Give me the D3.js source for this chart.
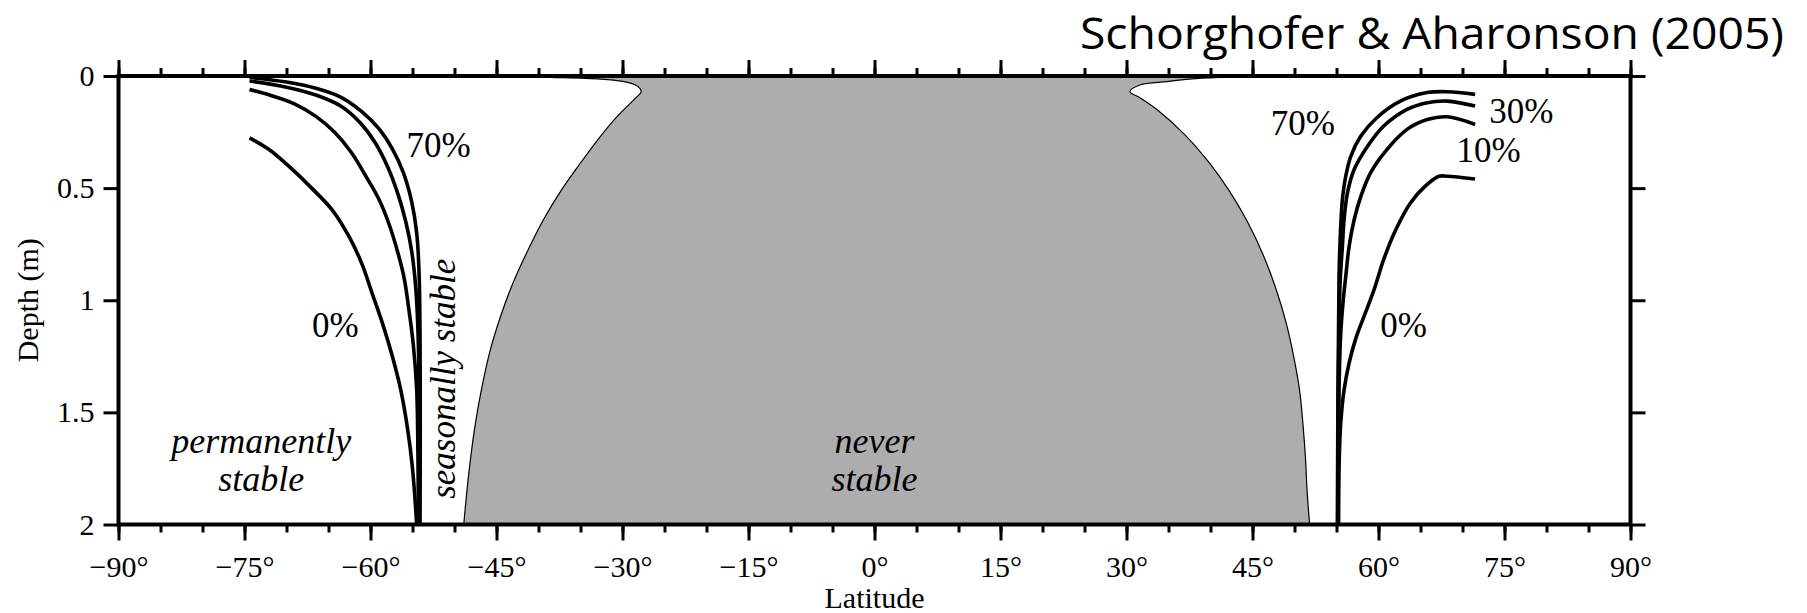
<!DOCTYPE html>
<html><head><meta charset="utf-8">
<script src="https://cdn.jsdelivr.net/npm/d3@7"></script>
<style>body{margin:0;background:#fff}svg{display:block}</style>
</head><body><svg id="c" width="1807" height="613"></svg>
<script>
// ---- tick values / labels ----
const latMajorTicks = [-90,-75,-60,-45,-30,-15,0,15,30,45,60,75,90];
const latMajorLabels = ["\u221290\u00b0","\u221275\u00b0","\u221260\u00b0","\u221245\u00b0","\u221230\u00b0","\u221215\u00b0","0\u00b0","15\u00b0","30\u00b0","45\u00b0","60\u00b0","75\u00b0","90\u00b0"];
const latMinorTicks = [-90,-85,-80,-75,-70,-65,-60,-55,-50,-45,-40,-35,-30,-25,-20,-15,-10,-5,0,5,10,15,20,25,30,35,40,45,50,55,60,65,70,75,80,85,90];
const depthTicks = [0,0.5,1,1.5,2];
const depthLabels = ["0","0.5","1","1.5","2"];

// ---- "never stable" region boundary (lat, depth) ----
const neverLeft = [[-45,0],[-38.6,0.006],[-32.6,0.014],[-30,0.024],[-28.6,0.038],[-27.9,0.056],[-27.8,0.072],[-28.6,0.104],[-30.6,0.179],[-32.6,0.268],[-35.0,0.388],[-37.3,0.51],[-39.4,0.64],[-41.3,0.78],[-43.0,0.92],[-44.5,1.07],[-45.8,1.23],[-46.8,1.40],[-47.6,1.57],[-48.2,1.74],[-48.6,1.88],[-48.9,2.0]];
const neverRight = [[51.8,2.0],[51.5,1.85],[51.3,1.70],[51.0,1.55],[50.6,1.40],[49.9,1.25],[49.0,1.10],[47.8,0.95],[46.3,0.80],[44.4,0.65],[42.2,0.51],[39.7,0.38],[36.9,0.26],[33.8,0.155],[31.5,0.095],[30.4,0.07],[31.6,0.04],[34.8,0.025],[37.5,0.014],[41,0.006],[46,0]];

// ---- ice-stability depth curves, southern hemisphere (lat, depth) ----
const south0 = [[-74.4,0.276],[-72.0,0.33],[-69.5,0.41],[-67.0,0.50],[-64.5,0.60],[-62.5,0.72],[-61.0,0.84],[-59.8,0.97],[-58.6,1.10],[-57.4,1.25],[-56.4,1.40],[-55.6,1.57],[-55.0,1.75],[-54.5,2.0]];
const south10 = [[-74.4,0.06],[-72.0,0.085],[-69.0,0.125],[-66.5,0.18],[-64.3,0.25],[-62.3,0.34],[-60.5,0.45],[-59.0,0.55],[-57.8,0.66],[-56.8,0.78],[-56.0,0.9],[-55.4,1.05],[-54.9,1.2],[-54.5,1.4],[-54.35,1.7],[-54.3,2.0]];
const south30 = [[-74.4,0.022],[-70.0,0.05],[-66.5,0.085],[-63.5,0.135],[-61.2,0.21],[-59.4,0.30],[-57.9,0.41],[-56.7,0.53],[-55.8,0.65],[-55.1,0.78],[-54.6,0.95],[-54.3,1.2],[-54.2,2.0]];
const south70 = [[-74.4,0.007],[-70.0,0.027],[-66.5,0.055],[-63.5,0.095],[-61.0,0.16],[-59.0,0.235],[-57.4,0.325],[-56.1,0.43],[-55.1,0.56],[-54.5,0.70],[-54.2,0.9],[-54.1,2.0]];

// ---- northern hemisphere ----
const north0 = [[71.5,0.459],[68.2,0.447],[67.2,0.447],[65.6,0.49],[63.8,0.566],[62.0,0.69],[60.6,0.82],[59.5,0.95],[58.4,1.06],[57.3,1.17],[56.5,1.28],[55.9,1.40],[55.5,1.55],[55.3,1.75],[55.25,2.0]];
const north10 = [[71.5,0.216],[68.2,0.182],[65.8,0.194],[63.4,0.238],[61.0,0.328],[59.05,0.432],[57.9,0.537],[57.1,0.641],[56.5,0.76],[56.1,0.895],[55.8,1.0],[55.5,1.15],[55.3,1.4],[55.2,2.0]];
const north30 = [[71.5,0.134],[68.2,0.112],[65.8,0.119],[63.4,0.149],[60.6,0.224],[58.7,0.313],[57.1,0.417],[56.3,0.522],[55.9,0.641],[55.7,0.76],[55.4,0.95],[55.15,2.0]];
const north70 = [[71.5,0.082],[68.2,0.07],[65.8,0.074],[62.6,0.112],[59.8,0.186],[57.9,0.268],[56.7,0.358],[56.1,0.447],[55.7,0.552],[55.5,0.671],[55.3,0.9],[55.1,2.0]];

const curves = [south0, south10, south30, south70, north0, north10, north30, north70];

// ---- annotation labels (lat, depth of baseline) ----
const pctLabels = [
  {t:"70%", lat:-51.9, d:0.36},
  {t:"0%",  lat:-64.2, d:1.165},
  {t:"70%", lat:51.0,  d:0.262},
  {t:"30%", lat:77.0,  d:0.21},
  {t:"10%", lat:73.1,  d:0.384},
  {t:"0%",  lat:63.0,  d:1.165}
];

const svg = d3.select("#c");
const x = d3.scaleLinear().domain([-90, 90]).range([118.5, 1630.5]);
const y = d3.scaleLinear().domain([0, 2]).range([76, 524.5]);
const serif = "'Liberation Serif','Times New Roman',serif";

svg.append("defs").append("clipPath").attr("id","plot")
  .append("rect").attr("x",x(-90)).attr("y",y(0)).attr("width",x(90)-x(-90)).attr("height",y(2)-y(0));

const line = d3.line().x(d=>x(d[0])).y(d=>y(d[1])).curve(d3.curveCatmullRom.alpha(0.5));

// gray region
const pL = line(neverLeft), pR = line(neverRight);
svg.append("path").attr("clip-path","url(#plot)")
  .attr("d", pL + pR.replace(/^M/, "L") + "Z")
  .attr("fill", "#adadad").attr("stroke", "#000").attr("stroke-width", 1.2);

// curves
svg.append("g").attr("clip-path","url(#plot)").selectAll("path").data(curves).join("path")
  .attr("d", line).attr("fill","none").attr("stroke","#000")
  .attr("stroke-width", 3.6).attr("stroke-linejoin","round").attr("stroke-linecap","butt");

// axes
function styleAxis(g){ g.select(".domain").remove(); g.selectAll(".tick line").attr("stroke","#000").attr("stroke-width",3); }
svg.append("g").attr("transform",`translate(0,${y(2)})`)
  .call(d3.axisBottom(x).tickValues(latMinorTicks).tickSize(8).tickFormat("")).call(styleAxis);
svg.append("g").attr("transform",`translate(0,${y(2)})`)
  .call(d3.axisBottom(x).tickValues(latMajorTicks).tickSize(16).tickPadding(15)
    .tickFormat((d,i)=>latMajorLabels[i])).call(styleAxis)
  .selectAll("text").attr("font-family",serif).attr("font-size",30).attr("fill","#000");
svg.append("g").attr("transform",`translate(0,${y(0)})`)
  .call(d3.axisTop(x).tickValues(latMinorTicks).tickSize(8).tickFormat("")).call(styleAxis);
svg.append("g").attr("transform",`translate(0,${y(0)})`)
  .call(d3.axisTop(x).tickValues(latMajorTicks).tickSize(16).tickFormat("")).call(styleAxis);
svg.append("g").attr("transform",`translate(${x(-90)},0)`)
  .call(d3.axisLeft(y).tickValues(depthTicks).tickSize(15).tickPadding(9)
    .tickFormat((d,i)=>depthLabels[i])).call(styleAxis)
  .selectAll("text").attr("font-family",serif).attr("font-size",30).attr("fill","#000");
svg.append("g").attr("transform",`translate(${x(90)},0)`)
  .call(d3.axisRight(y).tickValues(depthTicks).tickSize(15).tickFormat("")).call(styleAxis);

// frame
svg.append("rect").attr("x",x(-90)).attr("y",y(0)).attr("width",x(90)-x(-90)).attr("height",y(2)-y(0))
  .attr("fill","none").attr("stroke","#000").attr("stroke-width",4);

// axis titles
svg.append("text").attr("x", x(0)).attr("y", 608).attr("text-anchor","middle")
  .attr("font-family",serif).attr("font-size",30).text("Latitude");
svg.append("text").attr("transform",`translate(38,${(y(0)+y(2))/2}) rotate(-90)`).attr("text-anchor","middle")
  .attr("font-family",serif).attr("font-size",30).text("Depth (m)");

// percent labels
svg.append("g").selectAll("text").data(pctLabels).join("text")
  .attr("x", d=>x(d.lat)).attr("y", d=>y(d.d)).attr("text-anchor","middle")
  .attr("font-family",serif).attr("font-size",35).text(d=>d.t);

// region labels
function twoLine(lat, l1, l2){
  const t = svg.append("text").attr("text-anchor","middle").attr("font-family",serif)
    .attr("font-style","italic").attr("font-size",36);
  t.append("tspan").attr("x",x(lat)).attr("y",y(1.68)).text(l1);
  t.append("tspan").attr("x",x(lat)).attr("y",y(1.85)).text(l2);
}
twoLine(-73.0, "permanently", "stable");
twoLine(0, "never", "stable");
svg.append("text").attr("transform",`translate(${x(-49.9)},${y(1.35)}) rotate(-90)`)
  .attr("text-anchor","middle").attr("font-family",serif).attr("font-style","italic")
  .attr("font-size",35).text("seasonally stable");

// title
svg.append("text").attr("x",1080).attr("y",49).attr("font-family","'Open Sans','Noto Sans',sans-serif")
  .attr("font-size",44).attr("textLength",704).attr("lengthAdjust","spacingAndGlyphs")
  .text("Schorghofer & Aharonson (2005)");
</script></body></html>
